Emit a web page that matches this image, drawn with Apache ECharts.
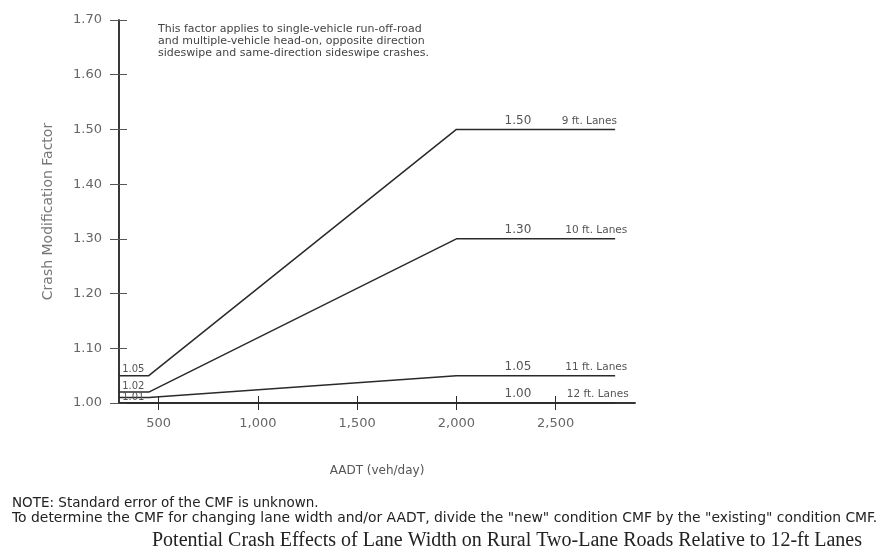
<!DOCTYPE html>
<html>
<head>
<meta charset="utf-8">
<script src="https://cdn.jsdelivr.net/npm/echarts@6/dist/echarts.min.js"></script>
<style>html,body{margin:0;padding:0;background:#fff;}#c{width:883px;height:555px;}</style>
</head>
<body>
<div id="c"></div>
<script>
var aadt = [300, 450, 2000, 2800];
var lane9 = [1.05, 1.05, 1.50, 1.50];
var lane10 = [1.02, 1.02, 1.30, 1.30];
var lane11 = [1.01, 1.01, 1.05, 1.05];
var lane12 = [1.00, 1.00, 1.00, 1.00];
var laneNames = ['9 ft. Lanes', '10 ft. Lanes', '11 ft. Lanes', '12 ft. Lanes'];
var xTicks = [500, 1000, 1500, 2000, 2500];
var startLabels = ['1.05', '1.02', '1.01', ''];
var endLabels = ['1.50', '1.30', '1.05', '1.00'];

var chart = echarts.init(document.getElementById('c'));
var lineColor = '#2a2a2a';
var sans = 'DejaVu Sans';

function pairs(vals) { return aadt.map(function (a, i) { return [a, vals[i]]; }); }

var allVals = [lane9, lane10, lane11, lane12];
var nameX = [2670, 2705, 2705, 2712];
var series = allVals.map(function (vals, k) {
  var top = vals[vals.length - 1];
  var mp = [
    { coord: [2310, top], label: { formatter: endLabels[k], fontSize: 12, distance: 3 } },
    { coord: [nameX[k], top], label: { formatter: laneNames[k], fontSize: 10.5, distance: 3 } }
  ];
  if (startLabels[k]) {
    var inside = k === 2;
    mp.push({ coord: [372, vals[0]], label: { formatter: startLabels[k], fontSize: 10,
      position: inside ? 'inside' : 'top', distance: 1 } });
  }
  return {
    type: 'line',
    data: pairs(vals),
    symbol: 'none',
    lineStyle: { color: lineColor, width: 1.5 },
    z: 3,
    markPoint: {
      symbol: 'circle', symbolSize: 0, silent: true,
      label: { show: true, position: 'top', distance: 1, color: '#555', fontFamily: sans },
      data: mp
    }
  };
});

var xBase = {
  type: 'value', min: 300, max: 2900,
  splitLine: { show: false },
  axisLine: { show: true, onZero: false, lineStyle: { color: lineColor, width: 1.5 } }
};
var yBase = {
  type: 'value', min: 1.0, max: 1.7, interval: 0.1,
  splitLine: { show: false },
  axisLine: { show: true, onZero: false, lineStyle: { color: lineColor, width: 1.5 } }
};

var option = {
  animation: false,
  backgroundColor: '#fff',
  grid: { left: 119, right: 248, top: 20, bottom: 152 },
  xAxis: [
    Object.assign({}, xBase, {
      name: 'AADT (veh/day)', nameLocation: 'middle', nameGap: 62,
      nameTextStyle: { color: '#555', fontSize: 12, fontFamily: sans },
      axisTick: { show: true, customValues: xTicks, length: 7, lineStyle: { color: lineColor } },
      axisLabel: { customValues: xTicks, color: '#666', fontSize: 13, fontFamily: sans, margin: 14,
        formatter: function (v) { return v.toLocaleString('en-US'); } }
    }),
    Object.assign({}, xBase, {
      position: 'bottom',
      axisTick: { show: true, inside: true, customValues: xTicks, length: 7, lineStyle: { color: lineColor } },
      axisLabel: { show: false }
    })
  ],
  yAxis: [
    Object.assign({}, yBase, {
      name: 'Crash Modification Factor', nameLocation: 'middle', nameGap: 64, nameRotate: 90,
      nameTextStyle: { color: '#777', fontSize: 14, fontFamily: sans },
      axisTick: { show: true, length: 9, lineStyle: { color: '#555' } },
      axisLabel: { color: '#666', fontSize: 13, fontFamily: sans, margin: 17,
        formatter: function (v) { return v.toFixed(2); } }
    }),
    Object.assign({}, yBase, {
      position: 'left',
      axisTick: { show: true, inside: true, length: 8, lineStyle: { color: '#555' } },
      axisLabel: { show: false }
    })
  ],
  series: series,
  graphic: [
    { type: 'text', left: 158, top: 23, style: {
      text: 'This factor applies to single-vehicle run-off-road\nand multiple-vehicle head-on, opposite direction\nsideswipe and same-direction sideswipe crashes.',
      fontSize: 11, lineHeight: 12, fill: '#444', fontFamily: sans } },
    { type: 'text', left: 12, top: 496, style: {
      text: 'NOTE: Standard error of the CMF is unknown.', fontSize: 13.5, fill: '#222', fontFamily: sans } },
    { type: 'text', left: 12, top: 511, style: {
      text: 'To determine the CMF for changing lane width and/or AADT, divide the "new" condition CMF by the "existing" condition CMF.',
      fontSize: 13.9, fill: '#222', fontFamily: sans } },
    { type: 'text', left: 152, top: 531, style: {
      text: 'Potential Crash Effects of Lane Width on Rural Two-Lane Roads Relative to 12-ft Lanes',
      fontSize: 20, fill: '#222', fontFamily: 'Liberation Serif' } }
  ]
};
chart.setOption(option);
</script>
</body>
</html>
